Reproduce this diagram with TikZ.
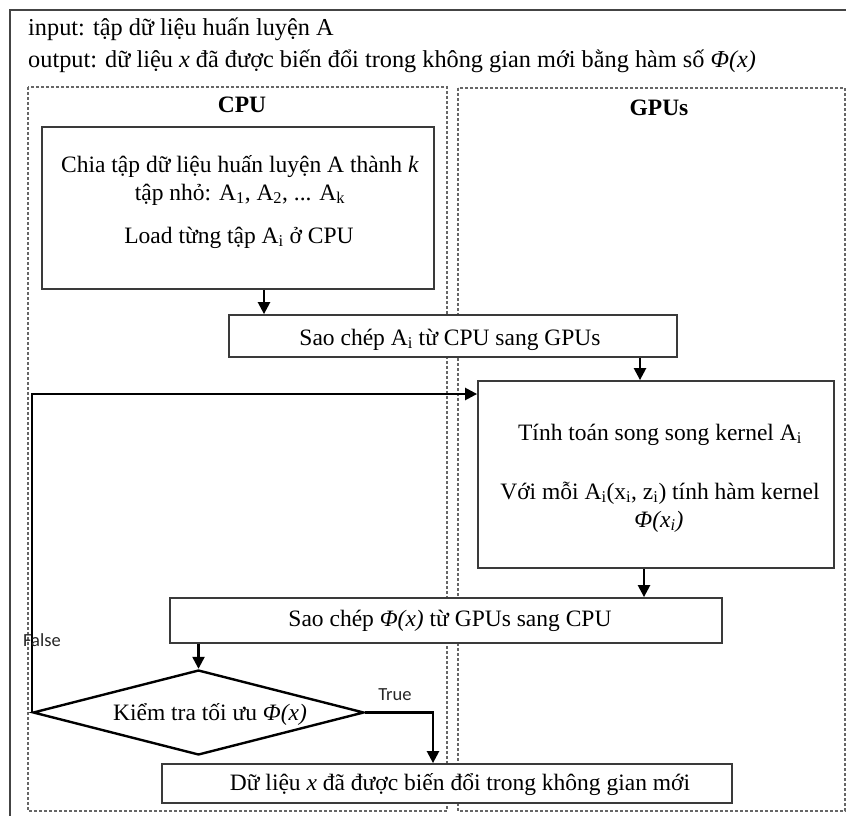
\documentclass[tikz,border=0pt]{standalone}
\usepackage{fontspec}
\setmainfont{Liberation Serif}
\newfontfamily\lblfont{Carlito}
\usetikzlibrary{arrows.meta,shapes.geometric}
\newcommand\sbs[1]{\textsubscript{#1}}
\definecolor{boxc}{HTML}{3A3A3A}
\definecolor{dashc}{HTML}{666666}
\definecolor{framec}{HTML}{444444}
\tikzset{
  box/.style={draw=boxc, line width=1.8pt, fill=white, inner sep=0pt},
  region/.style={draw=dashc, line width=1.2pt, dash pattern=on 3pt off 2pt},
  arr/.style={draw=black, line width=2.4pt, -{Triangle[length=12pt,width=12pt]}},
  txt/.style={anchor=base, inner sep=0pt},
  lbl/.style={inner sep=0pt, font=\lblfont\fontsize{18.5}{20}\selectfont, text=black!85}
}
\begin{document}
\begin{tikzpicture}[x=1pt, y=-1pt, font=\fontsize{23.5}{27}\selectfont]
\useasboundingbox (0,0) rectangle (846,816);
% outer frame and regions
\draw[framec, line width=2pt] (10,10) rectangle (860,830);
\draw[region] (28,87) rectangle (447,811);
\draw[region] (458,88) rectangle (845,811);
% boxes
\node[box, minimum width=392pt, minimum height=162pt] (b1) at (238,208) {};
\node[box, minimum width=448pt, minimum height=42pt] (cp1) at (453,336) {};
\node[box, minimum width=356pt, minimum height=187pt] (gpu) at (656,474.5) {};
\node[box, minimum width=552pt, minimum height=45pt] (cp2) at (446,620.5) {};
\node[draw=black, line width=2.4pt, fill=white, shape=diamond, inner sep=0pt, minimum width=331pt, minimum height=85pt] (dia) at (198.5,712.5) {};
\node[box, minimum width=570pt, minimum height=39pt] (fin) at (447,783.5) {};
% helper coordinates
\coordinate (xa) at (264,0);
\coordinate (xb) at (640,0);
\coordinate (xc) at (644,0);
\coordinate (fb) at (0,394);
\coordinate (xt) at (433,0);
% connectors
\draw[arr] (b1.south -| xa) -- (cp1.north -| xa);
\draw[arr] (cp1.south -| xb) -- (gpu.north -| xb);
\draw[arr] (gpu.south -| xc) -- (cp2.north -| xc);
\draw[arr] (cp2.south -| dia.north) -- (dia.north);
\draw[arr] (dia.west) |- (gpu.west |- fb);
\draw[arr] (dia.east) -| (fin.north -| xt);
% texts
\node[txt, anchor=base west, font=\fontsize{24.3}{28}\selectfont] (tin) at (28,36) {input: tập dữ liệu huấn luyện A};
\node[txt, anchor=base west, font=\fontsize{24.3}{28}\selectfont] (tout) at (28,67) {output: dữ liệu \textit{x} đã được biến đổi trong không gian mới bằng hàm số \textit{Φ(x)}};
\node[txt] (tcpu) at (242,112) {\textbf{CPU}};
\node[txt] (tgpu) at (659,115) {\textbf{GPUs}};
\node[txt] (t1a) at (240,172) {Chia tập dữ liệu huấn luyện A thành \textit{k}};
\node[txt] (t1b) at (240,200) {tập nhỏ: A\sbs{1}, A\sbs{2}, ... A\sbs{k}};
\node[txt] (t1c) at (239,243) {Load từng tập A\sbs{i} ở CPU};
\node[txt] (t2) at (450,345) {Sao chép A\sbs{i} từ CPU sang GPUs};
\node[txt] (t3a) at (660,440) {Tính toán song song kernel A\sbs{i}};
\node[txt] (t3b) at (660,499) {Với mỗi A\sbs{i}(x\sbs{i}, z\sbs{i}) tính hàm kernel};
\node[txt] (t3c) at (659,527) {\textit{Φ(x\sbs{i})}};
\node[txt] (t4) at (450,626) {Sao chép \textit{Φ(x)} từ GPUs sang CPU};
\node[txt] (t5) at (210,720) {Kiểm tra tối ưu \textit{Φ(x)}};
\node[txt] (t6) at (460,790) {Dữ liệu \textit{x} đã được biến đổi trong không gian mới};
\node[lbl] (lf) at (42,640) {False};
\node[lbl] (lt) at (395,695) {True};
\end{tikzpicture}
\end{document}
